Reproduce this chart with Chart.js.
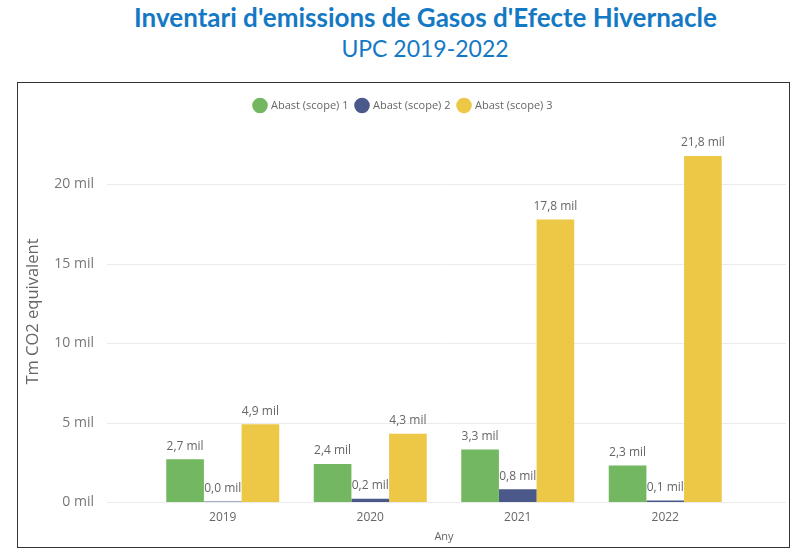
<!doctype html>
<html>
<head>
<meta charset="utf-8">
<title>Inventari d'emissions de Gasos d'Efecte Hivernacle</title>
<style>
  body{margin:0;background:#fff;font-family:"Open Sans",Arial,sans-serif}
  .t1{position:absolute;left:0;width:851px;top:1px;text-align:center;color:#1479c4;font:bold 26px Lato,"Open Sans",sans-serif}
  .t2{position:absolute;left:0;width:850px;top:34px;text-align:center;color:#1479c4;font:23px Lato,"Open Sans",sans-serif}
  .box{position:absolute;left:17px;top:82px;width:771px;height:464px;border:1px solid #333}
</style>
</head>
<body>
<div class="t1">Inventari d'emissions de Gasos d'Efecte Hivernacle</div>
<div class="t2">UPC 2019-2022</div>
<div class="box"><canvas id="c" width="771" height="464"></canvas></div>
<script src="https://cdn.jsdelivr.net/npm/chart.js"></script>
<script>
const years = ['2019', '2020', '2021', '2022'];
// thousands of t CO2 eq (mil)
const scope1 = [2.7, 2.4, 3.3, 2.3];
const scope2 = [0.03, 0.2, 0.8, 0.1];
const scope3 = [4.9, 4.3, 17.8, 21.8];
const yTicks = [0, 5, 10, 15, 20];

const fmt = v => v.toFixed(1).replace('.', ',') + ' mil';

// light horizontal grid lines wider than the bar area, like the original
const gridPlugin = {
  id: 'grid',
  beforeDatasetsDraw(chart) {
    const ctx = chart.ctx, y = chart.scales.y;
    ctx.save();
    ctx.strokeStyle = '#ebebeb';
    ctx.lineWidth = 1;
    yTicks.forEach(t => {
      const py = Math.round(y.getPixelForValue(t)) + 0.5;
      ctx.beginPath();
      ctx.moveTo(89, py);
      ctx.lineTo(768, py);
      ctx.stroke();
    });
    ctx.restore();
  }
};

const labelPlugin = {
  id: 'vals',
  afterDatasetsDraw(chart) {
    const ctx = chart.ctx;
    ctx.save();
    ctx.font = '12px "Open Sans", sans-serif';
    ctx.fillStyle = '#666';
    ctx.textAlign = 'center';
    ctx.textBaseline = 'bottom';
    chart.data.datasets.forEach((ds, i) => {
      chart.getDatasetMeta(i).data.forEach((bar, j) => {
        ctx.fillText(fmt(ds.data[j]), bar.x, bar.y - 7);
      });
    });
    ctx.restore();
  }
};

new Chart(document.getElementById('c'), {
  type: 'bar',
  data: {
    labels: years,
    datasets: [
      { label: 'Abast (scope) 1', data: scope1, backgroundColor: '#73b761' },
      { label: 'Abast (scope) 2', data: scope2, backgroundColor: '#4a588a' },
      { label: 'Abast (scope) 3', data: scope3, backgroundColor: '#ecc846' }
    ]
  },
  options: {
    responsive: false,
    animation: false,
    layout: { padding: { top: 9, right: 0, left: 0, bottom: 0 } },
    categoryPercentage: 0.766,
    barPercentage: 1.0,
    plugins: {
      legend: {
        labels: {
          usePointStyle: true, pointStyle: 'circle', boxWidth: 11, boxHeight: 11,
          padding: 8, color: '#666', font: { family: 'Open Sans', size: 11 }
        }
      },
      tooltip: { enabled: false }
    },
    scales: {
      x: {
        grid: { display: false, drawTicks: false },
        border: { display: false },
        ticks: { color: '#666', padding: 8, font: { family: 'Open Sans', size: 12 } },
        title: { display: true, text: 'Any', color: '#666', font: { family: 'Open Sans', size: 11 }, padding: { top: 2, bottom: 4 } },
        afterFit: s => { s.height = 45; }
      },
      y: {
        min: 0, max: 24,
        afterBuildTicks: s => { s.ticks = yTicks.map(v => ({ value: v })); },
        grid: { display: false, drawTicks: false },
        border: { display: false },
        ticks: { color: '#777', padding: 55, font: { family: 'Open Sans', size: 14 }, callback: v => v + ' mil' },
        title: { display: true, text: 'Tm CO2 equivalent', color: '#666', font: { family: 'Open Sans', size: 16.5 }, padding: { top: 5, bottom: 0 } },
        afterFit: s => { s.width = 131; s.paddingTop = 4; s.paddingBottom = 4; }
      },
      // empty right axis, only keeps the bar area away from the right edge
      y2: {
        position: 'right',
        grid: { display: false, drawTicks: false },
        border: { display: false },
        ticks: { display: false },
        afterFit: s => { s.width = 50; s.paddingTop = 0; s.paddingBottom = 0; }
      }
    }
  },
  plugins: [gridPlugin, labelPlugin]
});
</script>
</body>
</html>
